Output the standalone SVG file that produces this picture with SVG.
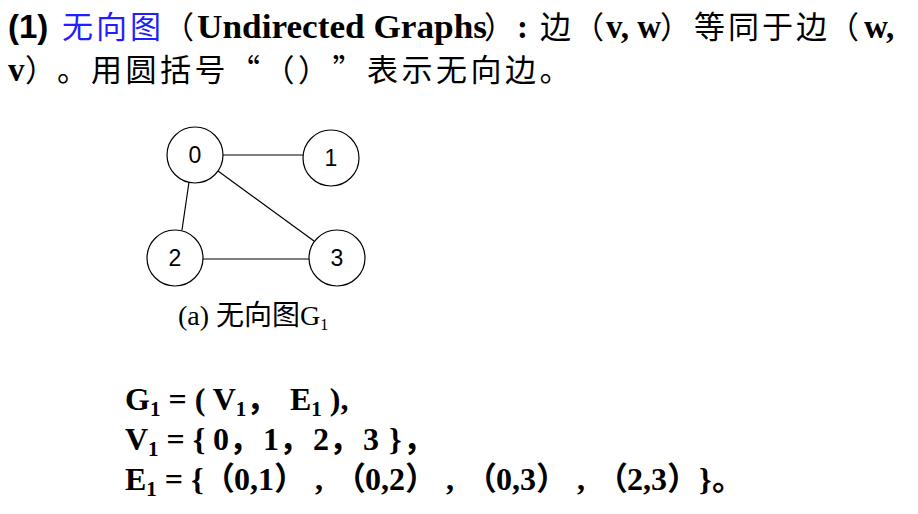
<svg xmlns="http://www.w3.org/2000/svg" width="918" height="514" viewBox="0 0 918 514">
<style>
.bg{fill:#ffffff}
.h{font-size:33px}
.sans{font-family:"Liberation Sans",Arial,sans-serif;font-weight:bold}
.lat{font-family:"Liberation Serif","Noto Sans CJK SC",serif;font-weight:bold}
.cjk{font-family:"Noto Sans CJK SC",sans-serif;font-weight:normal;font-size:31px}
.blue{fill:#1f1fff}
.node circle{fill:#ffffff;stroke:#000000;stroke-width:1.2}
.node text{font-family:"Liberation Sans",Arial,sans-serif;font-size:23px;text-anchor:middle;fill:#000}
.edges line{stroke:#000000;stroke-width:1.2}
.cap{font-family:"Liberation Serif","Noto Sans CJK SC",serif;font-size:28px}
.f{font-family:"Liberation Serif","Noto Sans CJK SC",serif;font-weight:bold;font-size:32px}
.sub{font-size:21px}
</style>
<rect class="bg" x="0" y="0" width="918" height="514"/>
<g id="header">
<text class="h" y="38"><tspan class="sans" x="8">(1)</tspan><tspan class="cjk blue" x="62 96 130">无向图</tspan><tspan class="cjk" x="163">（</tspan><tspan class="lat" x="197" textLength="290" lengthAdjust="spacingAndGlyphs">Undirected Graphs</tspan><tspan class="cjk" x="484">）</tspan><tspan class="lat" x="517">:</tspan><tspan class="cjk" x="540">边</tspan><tspan class="cjk" x="573">（</tspan><tspan class="lat" x="606">v, w</tspan><tspan class="cjk" x="660">）</tspan><tspan class="cjk" x="694 728 762 796">等同于边</tspan><tspan class="cjk" x="828">（</tspan><tspan class="lat" x="864">w,</tspan></text>
<text class="h" y="81"><tspan class="lat" x="8">v</tspan><tspan class="cjk" x="25 57 91 125.5 160 194.5 229 263.5 298 332.5 367 401.5 436 470.5 505 539.5">）。用圆括号“（）”表示无向边。</tspan></text>
</g>
<g id="connectors" class="edges">
<line x1="223" y1="155" x2="303" y2="155"/>
<line x1="189" y1="182" x2="182" y2="230"/>
<line x1="218" y1="171" x2="314" y2="241"/>
<line x1="203" y1="259" x2="309" y2="259"/>
</g>
<g id="node0" class="node"><circle cx="195" cy="155" r="28"/><text x="195" y="163">0</text></g>
<g id="node1" class="node"><circle cx="331" cy="158" r="28"/><text x="331" y="166">1</text></g>
<g id="node2" class="node"><circle cx="175" cy="258" r="28"/><text x="175" y="266">2</text></g>
<g id="node3" class="node"><circle cx="337" cy="258" r="28"/><text x="337" y="266">3</text></g>
<g id="caption">
<text class="cap" x="178" y="325">(a) 无向图G<tspan dy="5" font-size="16px">1</tspan></text>
</g>
<g id="formula">
<text class="f" x="125" y="410">G<tspan class="sub" dy="6">1</tspan><tspan dy="-6"> = ( V</tspan><tspan class="sub" dy="6">1</tspan><tspan dy="-6">，</tspan><tspan x="290">E</tspan><tspan class="sub" dy="6">1</tspan><tspan dy="-6"> ),</tspan></text>
<text class="f" x="125" y="450">V<tspan class="sub" dy="6">1</tspan><tspan dy="-6"> = { </tspan><tspan x="213">0</tspan><tspan x="229">，</tspan><tspan x="263">1</tspan><tspan x="279">，</tspan><tspan x="313">2</tspan><tspan x="329">，</tspan><tspan x="363">3</tspan><tspan x="389">}</tspan><tspan x="403">，</tspan></text>
<text class="f" x="125" y="490">E<tspan class="sub" dy="6">1</tspan><tspan dy="-6"> = {</tspan><tspan x="203">（</tspan><tspan x="234">0,1</tspan><tspan x="274">）</tspan><tspan x="315">,</tspan><tspan x="334">（</tspan><tspan x="365">0,2</tspan><tspan x="405">）</tspan><tspan x="446">,</tspan><tspan x="465">（</tspan><tspan x="496">0,3</tspan><tspan x="536">）</tspan><tspan x="577">,</tspan><tspan x="596">（</tspan><tspan x="627">2,3</tspan><tspan x="667">）</tspan><tspan x="699">}</tspan><tspan x="712">。</tspan></text>
</g>
</svg>
